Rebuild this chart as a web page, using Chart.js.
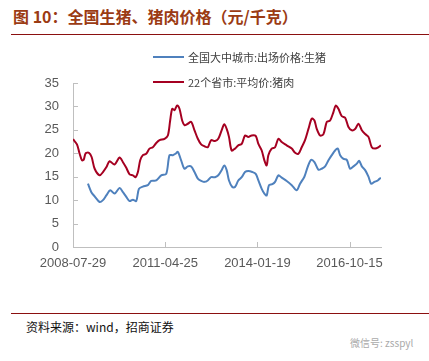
<!DOCTYPE html>
<html>
<head>
<meta charset="utf-8">
<script src="https://cdn.jsdelivr.net/npm/chart.js@4.4.0/dist/chart.umd.min.js"></script>
<style>
  body { margin: 0; width: 429px; height: 361px; background: #fff; position: relative; overflow: hidden; font-family: "Noto Sans CJK SC", sans-serif; }
  #title { position: absolute; left: 13px; top: 4px; font-size: 16px; font-weight: bold; color: #9b3b14; white-space: nowrap; }
  .rule { position: absolute; left: 11px; width: 418px; height: 1px; background: #8b1010; }
  #source { position: absolute; left: 26px; top: 318px; font-size: 12px; color: #111; white-space: nowrap; }
  #wx { position: absolute; left: 350px; top: 335px; font-size: 10px; color: #aaa; white-space: nowrap; }
  #legend { position: absolute; left: 153px; top: 44px; font-size: 11px; color: #404040; }
  .item { height: 25px; display: flex; align-items: center; white-space: nowrap; }
  .swatch { width: 31px; height: 2px; margin-right: 4px; }
  #wrap { position: absolute; left: 0; top: 0; width: 429px; height: 361px; }
</style>
</head>
<body>
<div id="title">图 10：全国生猪、猪肉价格（元/千克）</div>
<div class="rule" style="top:34px"></div>
<div class="rule" style="top:313px"></div>
<div id="source">资料来源：wind，招商证券</div>
<div id="wx">微信号: zsspyl</div>
<div id="wrap"><canvas id="myChart"></canvas></div>
<div id="legend"></div>

<script>
// days counted from 2008-07-29
const tickDays = [0, 1000, 2000, 3000];
const tickLabels = ["2008-07-29", "2011-04-25", "2014-01-19", "2016-10-15"];

const porkDays = [0, 43, 72, 97, 116, 137, 173, 202, 235, 289, 325, 361, 397, 451, 505, 542, 578, 614, 650, 679, 704, 729, 758, 794, 830, 866, 903, 939, 993, 1029, 1054, 1076, 1101, 1130, 1155, 1184, 1209, 1245, 1282, 1318, 1354, 1390, 1426, 1462, 1498,
  1540, 1576, 1612, 1641, 1667, 1692, 1721, 1757, 1793, 1830, 1866, 1902, 1938, 1982, 2011, 2047, 2076, 2101, 2119, 2155, 2192, 2228, 2264, 2318, 2373, 2409, 2445, 2481, 2517, 2554, 2590, 2619, 2644, 2680, 2717, 2753, 2789, 2825, 2850, 2879, 2916, 2952, 2988, 3024, 3060, 3097, 3133, 3169, 3205, 3241, 3278, 3314, 3339];
const porkPrice = [23.0, 21.9, 19.9, 18.5, 18.6, 20.0, 20.1, 19.2, 16.7, 15.3, 16.0, 17.0, 18.3, 17.6, 19.1, 18.1, 16.9, 15.5, 15.3, 14.9, 16.0, 18.5, 19.6, 19.9, 21.0, 21.3, 22.2, 22.8, 23.1, 23.8, 27.0, 29.5, 29.2, 30.2, 29.5, 27.0, 26.0, 26.3, 26.7, 24.9, 23.1, 21.9, 21.5, 21.3, 22.8,
  22.6, 23.1, 24.9, 26.2, 25.2, 23.5, 20.6, 21.0, 21.7, 22.0, 23.8, 23.5, 23.8, 23.7, 22.0, 20.6, 18.5, 17.4, 19.6, 21.0, 21.3, 23.1, 22.4, 21.7, 21.0, 20.1, 19.9, 21.3, 22.8, 25.2, 27.4, 27.0, 25.2, 23.8, 24.1, 26.7, 27.0, 28.8, 30.2, 29.5, 27.9, 27.6, 25.6, 24.9, 25.2, 26.3, 24.9, 24.1, 23.5, 21.3, 21.0, 21.3, 21.7];

const hogDays = [162, 199, 235, 289, 325, 361, 404, 451, 505, 542, 578, 614, 650, 686, 715, 758, 812, 848, 903, 957, 1011, 1047, 1083, 1112, 1137, 1173, 1209, 1245, 1282, 1318, 1354, 1390, 1426, 1462, 1498,
  1540, 1576, 1612, 1641, 1667, 1692, 1728, 1757, 1793, 1830, 1866, 1902, 1945, 1982, 2011, 2047, 2076, 2101, 2126, 2163, 2192, 2228, 2264, 2318, 2373, 2427, 2463, 2510, 2546, 2583, 2619, 2662, 2698, 2735, 2771, 2807, 2843, 2872, 2898, 2934, 2970, 3006, 3042, 3079, 3104, 3133, 3169, 3205, 3234, 3270, 3306, 3339];
const hogPrice = [13.5, 11.7, 10.8, 9.6, 10.0, 11.0, 12.1, 11.4, 12.6, 11.7, 10.7, 9.8, 10.1, 9.8, 12.4, 12.9, 13.2, 14.1, 14.2, 15.3, 15.6, 19.6, 19.6, 19.9, 20.3, 18.5, 16.7, 17.2, 17.2, 16.0, 14.6, 14.1, 13.9, 14.2, 14.9,
  14.9, 15.3, 16.4, 17.4, 16.4, 14.2, 12.8, 12.8, 14.2, 14.9, 16.0, 16.2, 16.0, 15.6, 14.2, 12.4, 11.4, 11.0, 13.2, 13.4, 13.9, 15.3, 14.8, 14.1, 13.2, 12.1, 13.5, 15.0, 17.1, 18.6, 18.1, 16.5, 16.7, 17.2, 18.5, 19.6, 20.6, 21.0, 19.6, 18.8, 18.6, 16.7, 17.2, 17.8, 18.4, 17.2, 16.4, 15.0, 13.5, 13.9, 14.2, 14.8];

const seriesNames = ["全国大中城市:出场价格:生猪", "22个省市:平均价:猪肉"];
const lastDay = 3341;

function pts(days, vals) {
  return days.map((d, i) => ({ x: d, y: vals[i] }));
}

// small ticks drawn inside the plot, like the original
const innerTicks = {
  id: 'innerTicks',
  afterDraw(chart) {
    const ctx = chart.ctx, a = chart.chartArea;
    ctx.save();
    ctx.strokeStyle = '#bfbfbf';
    ctx.lineWidth = 1;
    ctx.beginPath();
    chart.scales.y.ticks.forEach(t => {
      const y = Math.round(chart.scales.y.getPixelForValue(t.value)) + 0.5;
      ctx.moveTo(a.left, y); ctx.lineTo(a.left + 5, y);
    });
    tickDays.forEach(d => {
      const x = Math.round(chart.scales.x.getPixelForValue(d)) + 0.5;
      ctx.moveTo(x, a.bottom); ctx.lineTo(x, a.bottom - 5);
    });
    ctx.stroke();
    ctx.restore();
  }
};

const data = {
  datasets: [
    { label: seriesNames[0], data: pts(hogDays, hogPrice), borderColor: '#4f81bd', borderWidth: 2, pointRadius: 0, tension: 0.3 },
    { label: seriesNames[1], data: pts(porkDays, porkPrice), borderColor: '#a50021', borderWidth: 2, pointRadius: 0, tension: 0.3 }
  ]
};

const config = {
  type: 'line',
  data: data,
  options: {
    responsive: false,
    animation: false,
    layout: { padding: { left: 0, right: 48, top: 83, bottom: 84 } },
    plugins: { legend: { display: false }, tooltip: { enabled: false } },
    scales: {
      x: {
        type: 'linear', min: 0, max: lastDay,
        afterBuildTicks: s => { s.ticks = tickDays.map(v => ({ value: v })); },
        afterFit: s => { s.height = 30; },
        grid: { display: false, drawTicks: false },
        border: { color: '#bfbfbf' },
        ticks: { padding: 9, color: '#595959', font: { family: 'Liberation Sans', size: 13 }, maxRotation: 0,
          callback: v => tickLabels[tickDays.indexOf(v)] }
      },
      y: {
        min: 0, max: 35,
        afterFit: s => { s.width = 73; },
        grid: { display: false, drawTicks: false },
        border: { color: '#bfbfbf' },
        ticks: { stepSize: 5, padding: 14, color: '#595959', font: { family: 'Liberation Sans', size: 13 } }
      }
    }
  },
  plugins: [innerTicks]
};

const canvas = document.getElementById('myChart');
canvas.width = 429; canvas.height = 361;
const myChart = new Chart(canvas, config);

const legend = document.getElementById('legend');
data.datasets.forEach(ds => {
  const row = document.createElement('div');
  row.className = 'item';
  row.innerHTML = '<span class="swatch" style="background:' + ds.borderColor + '"></span>' + ds.label;
  legend.appendChild(row);
});
</script>
</body>
</html>
